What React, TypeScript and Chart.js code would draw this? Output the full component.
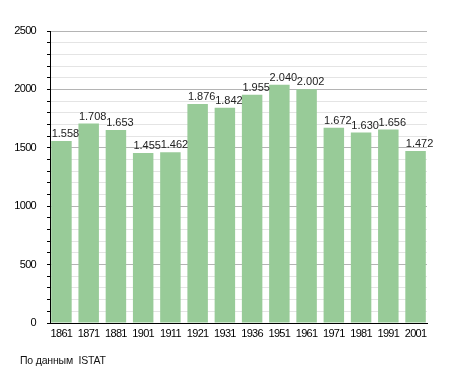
import React, { useEffect, useRef } from "react";
import { Chart, registerables } from "chart.js";

Chart.register(...registerables);

const years = ["1861", "1871", "1881", "1901", "1911", "1921", "1931", "1936", "1951", "1961", "1971", "1981", "1991", "2001"];
const population = [1558, 1708, 1653, 1455, 1462, 1876, 1842, 1955, 2040, 2002, 1672, 1630, 1656, 1472];
const yTickLabels = [0, 500, 1000, 1500, 2000, 2500];
const footerText = "По данным  ISTAT";

const FONT = '"Liberation Sans", Arial, sans-serif';
const BAR_COLOR = "rgb(152,203,152)";

function fmt(v: number): string {
  const th = Math.floor(v / 1000);
  const rest = v % 1000;
  if (th === 0) return String(rest);
  return th + "." + String(rest).padStart(3, "0");
}

const labelPlugin = {
  id: "valueLabels",
  beforeDraw(chart: any) {
    chart.ctx.letterSpacing = "-0.7px";
  },
  afterDatasetsDraw(chart: any) {
    const ctx = chart.ctx;
    const meta = chart.getDatasetMeta(0);
    ctx.save();
    ctx.letterSpacing = "0px";
    ctx.font = "11px " + FONT;
    ctx.fillStyle = "#222";
    ctx.textAlign = "left";
    ctx.textBaseline = "alphabetic";
    meta.data.forEach((bar: any, i: number) => {
      ctx.fillText(fmt(population[i]), bar.x - bar.width / 2 + 0.5, bar.y - 4);
    });
    ctx.restore();
  },
  afterDraw(chart: any) {
    const ctx = chart.ctx;
    ctx.save();
    ctx.font = "10.5px " + FONT;
    ctx.letterSpacing = "0px";
    const w = ctx.measureText(footerText).width;
    const sp = (86 - w) / (footerText.length - 1);
    ctx.letterSpacing = sp.toFixed(2) + "px";
    ctx.fillStyle = "#111";
    ctx.textAlign = "left";
    ctx.textBaseline = "middle";
    ctx.fillText(footerText, 20, 361);
    ctx.restore();
    ctx.letterSpacing = "0px";
  },
};

export default function App() {
  const ref = useRef<HTMLCanvasElement>(null);
  useEffect(() => {
    if (!ref.current) return;
    const chart = new Chart(ref.current, {
      type: "bar",
      data: {
        datasets: [
          {
            data: population.map((v, i) => ({ x: i, y: v })),
            backgroundColor: BAR_COLOR,
            borderWidth: 0,
            barPercentage: 0.752,
            categoryPercentage: 1,
          },
        ],
      },
      plugins: [labelPlugin],
      options: {
        responsive: false,
        animation: false,
        events: [],
        layout: { padding: { left: 0, top: 31, right: 28, bottom: 0 } },
        plugins: { legend: { display: false }, tooltip: { enabled: false } },
        scales: {
          x: {
            type: "linear",
            offset: false,
            min: -0.42,
            max: years.length - 1 + 0.42,
            afterBuildTicks: (s: any) => {
              s.ticks = years.map((_, i) => ({ value: i }));
            },
            afterFit: (s: any) => {
              s.height = 50;
            },
            grid: { display: false, drawTicks: false, offset: false },
            border: { display: true, color: "#000", width: 1 },
            ticks: {
              autoSkip: false,
              maxRotation: 0,
              padding: 4,
              color: "#000",
              font: { size: 11, family: FONT },
              callback: (v: any) => years[v] ?? "",
            },
          },
          y: {
            min: 0,
            max: 2500,
            afterFit: (s: any) => {
              s.width = 50;
            },
            grid: {
              color: (c: any) => (c.tick && c.tick.value % 500 === 0 ? "#b4b4b4" : "#e4e4e4"),
              tickColor: "#000",
              tickLength: 3,
            },
            border: { display: true, color: "#000", width: 1 },
            ticks: {
              stepSize: 100,
              autoSkip: false,
              padding: 11,
              color: "#000",
              font: { size: 11, family: FONT },
              callback: (v: any) => (yTickLabels.includes(v) ? String(v) : ""),
            },
          },
        },
      },
    } as any);
    return () => chart.destroy();
  }, []);
  return (
    <div style={{ position: "fixed", left: 0, top: 0, width: 455, height: 373, background: "#fff" }}>
      <canvas ref={ref} width={455} height={373} style={{ width: 455, height: 373 }} />
    </div>
  );
}
